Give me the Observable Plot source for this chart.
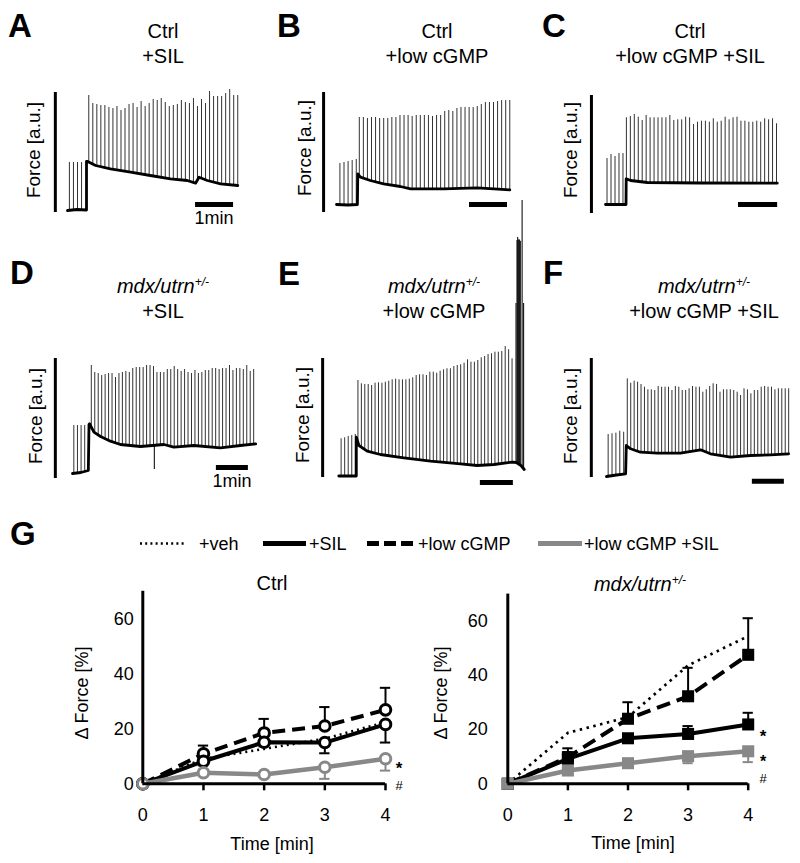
<!DOCTYPE html>
<html><head><meta charset="utf-8">
<script src="https://cdn.jsdelivr.net/npm/d3@7"></script>
<script src="https://cdn.jsdelivr.net/npm/@observablehq/plot@0.6"></script>
<style>
body{margin:0;background:#fff;}
#fig{position:relative;width:800px;height:863px;overflow:hidden;font-family:"Liberation Sans",Arial,sans-serif;color:#000;background:#fff;}
.lbl{position:absolute;white-space:nowrap;}
.lbl sup{font-size:0.6em;position:relative;top:-0.6em;vertical-align:baseline;line-height:0;}
.pos{position:absolute;}
</style></head><body><div id="fig"></div>
<script>
// ================= DATA =================
// Force traces: time in min (from start of the pre-segment), force in a.u.
// ---- A: Ctrl +SIL
const A_preSpan = [0.05, 0.37];
const A_preSpikes = [50, 50, 50, 50];
const A_postSpan = [0.56, 4.48];
const A_postSpikes = [117, 109, 108, 107, 107, 105, 104, 106, 102, 104, 108, 109, 105, 111, 106, 109, 113, 112, 114, 110, 106, 107, 108, 112, 110, 109, 114, 106, 113, 109, 121, 116, 116, 116, 119, 123, 117, 117];
const A_baseT = [0, 0.25, 0.5, 0.5, 0.53, 0.74, 1.13, 1.66, 2.18, 2.71, 3.15, 3.37, 3.46, 3.68, 4.03, 4.48];
const A_baseF = [2, 3, 2.5, 51, 51, 47, 43.7, 40.3, 37, 33.7, 32, 29.3, 35.3, 32, 28.7, 27];
const A_scaleBar = {t: -0.32, len: 120};
const A_timeBar = {t1: 3.37, t2: 4.37, f: 8};
// ---- B: Ctrl +low cGMP
const B_preSpan = [0.09, 0.52];
const B_preSpikes = [49, 50, 51, 52, 53];
const B_postSpan = [0.6, 4.56];
const B_postSpikes = [95, 95, 94, 95, 95, 94, 94, 94, 95, 95, 97, 97, 97, 96, 97, 97, 97, 97, 96, 97, 97, 101, 102, 101, 104, 105, 105, 105, 105, 106, 108, 110, 110, 110, 111, 112, 112, 112];
const B_baseT = [0, 0.3, 0.55, 0.56, 0.63, 0.89, 1.24, 1.68, 1.95, 2.82, 3.70, 4.14, 4.56];
const B_baseF = [8, 7.5, 8, 38.7, 35.3, 32, 28.7, 26, 23.7, 23.7, 24.7, 23.7, 22.7];
const B_scaleBar = {t: -0.34, len: 120};
const B_timeBar = {t1: 3.5, t2: 4.5, f: 8};
// ---- C: Ctrl +low cGMP +SIL
const C_preSpan = [0.04, 0.46];
const C_preSpikes = [55, 59, 57, 60, 60];
const C_postSpan = [0.55, 4.5];
const C_postSpikes = [95.7, 97, 99, 96.3, 93, 98, 95.7, 95.7, 95.7, 95.7, 95.7, 98, 93, 93.7, 93.7, 96.3, 95.7, 89, 91.3, 92.3, 92.3, 91.3, 94.7, 91.3, 92.3, 96.3, 93.7, 95.7, 96.3, 92.3, 92.3, 91.3, 91.3, 92.3, 91.3, 94.7, 93.7, 94.7, 89.7];
const C_baseT = [0, 0.54, 0.545, 0.66, 1.1, 2.5, 4.52];
const C_baseF = [9, 9, 34.7, 33, 31, 30.5, 30.3];
const C_scaleBar = {t: -0.37, len: 118};
const C_timeBar = {t1: 3.5, t2: 4.53, f: 9};
// ---- D: mdx/utrn+/- +SIL
const D_preSpan = [0.04, 0.37];
const D_preSpikes = [53, 53, 53, 53];
const D_postSpan = [0.57, 5.49];
const D_postSpikes = [113, 106, 105, 103, 104, 105, 105, 101, 105, 106, 107, 106, 110, 111, 111, 111, 113, 113, 112, 106, 106, 106, 109, 109, 112, 109, 107, 109, 106, 105, 108, 105, 106, 108, 108, 110, 110, 109, 110, 110, 113, 108, 110, 110, 109, 113, 107, 109];
const D_baseT = [0, 0.25, 0.48, 0.5, 0.52, 0.65, 0.85, 1.15, 1.45, 2.06, 2.77, 3.07, 3.68, 4.48, 5.09, 5.55];
const D_baseF = [5, 6, 8, 54, 54.7, 46.3, 42, 37.3, 34, 32, 34, 31.3, 33, 30.7, 33, 34.7];
const D_extraT = [2.48];
const D_extraF = [9];
const D_scaleBar = {t: -0.52, len: 120};
const D_timeBar = {t1: 4.36, t2: 5.33, f: 11};
// ---- E: mdx/utrn+/- +low cGMP
const E_preSpan = [0.07, 0.5];
const E_preSpikes = [38.7, 39.7, 41, 42, 43];
const E_postSpan = [0.58, 5.25];
const E_postSpikes = [97, 93.7, 93, 93, 92, 94.3, 94.7, 94.3, 95.3, 96.3, 97.7, 98.3, 97.7, 97.7, 97.7, 98.3, 99.7, 102, 102.7, 102.7, 102, 105.3, 105.3, 104.3, 106.3, 107.7, 108.7, 108.7, 111, 112, 112.7, 114.3, 117.7, 115.3, 115.3, 117, 119.7, 121, 123, 123.7, 125.3, 125.3, 126, 131, 127.7, 118.7];
const E_baseT = [0, 0.53, 0.53, 0.61, 0.86, 1.26, 1.97, 2.78, 3.69, 4.19, 4.7, 5.25, 5.38, 5.52, 5.62];
const E_baseF = [1.5, 1.5, 40.3, 32, 26.3, 23, 19.7, 16.3, 13.7, 12, 13, 15.3, 15, 12, 8];
const E_extraT = [5.37, 5.40, 5.42, 5.44, 5.46, 5.48, 5.50, 5.555, 5.60];
const E_extraF = [174, 237, 240, 237, 238, 237, 236, 277, 174];
const E_scaleBar = {t: -0.49, len: 119};
const E_timeBar = {t1: 4.29, t2: 5.29, f: -5};
// ---- F: mdx/utrn+/- +low cGMP +SIL
const F_preSpan = [0.05, 0.52];
const F_preSpikes = [43, 43.7, 44.3, 46.3, 45.3];
const F_postSpan = [0.63, 5.52];
const F_postSpikes = [98.7, 94.3, 96.3, 95.3, 93, 90.3, 87.7, 87.7, 87, 91, 90.3, 90.3, 90.3, 87, 91, 90.3, 87, 87, 88.7, 91, 90.3, 90.3, 85.3, 87.7, 91, 93.7, 93, 85.3, 87.7, 87.7, 87.7, 87, 85.3, 82, 88.7, 87.7, 83.7, 87, 87, 90.3, 91, 90.3, 90.3, 87.7, 88.7, 88.7, 88.7, 88.7];
const F_baseT = [0, 0.3, 0.58, 0.6, 0.73, 1.03, 1.54, 2.24, 2.85, 3.15, 3.76, 4.36, 4.97, 5.52];
const F_baseF = [1, 2.5, 3.7, 32, 28.7, 25.3, 24.3, 24.3, 27.7, 23.7, 20.3, 22, 22.7, 23.7];
const F_scaleBar = {t: -0.46, len: 119};
const F_timeBar = {t1: 4.42, t2: 5.39, f: -3.7};

// ---- G: Δ force over time (%)
const times = [0, 1, 2, 3, 4];
const ctrl_veh = [0, 9.1, 12.7, 16.4, 22.4];
const ctrl_sil = [0, 8.2, 15.1, 15.0, 21.6];
const ctrl_sil_err = [0, 1.5, 1.5, 3.9, 6.6];
const ctrl_cgmp = [0, 10.9, 18.5, 21.0, 26.9];
const ctrl_cgmp_err = [0, 3.0, 5.1, 6.9, 8.0];
const ctrl_cgmpsil = [0, 4.0, 3.4, 6.0, 9.1];
const ctrl_cgmpsil_err = [0, 1.0, 1.0, 4.2, 4.3];
const mdx_veh = [0, 18.8, 24.6, 43.7, 54.5];
const mdx_sil = [0, 9.2, 16.8, 18.4, 21.9];
const mdx_sil_err = [0, 2.5, 1.5, 2.9, 4.3];
const mdx_cgmp = [0, 9.8, 24.0, 32.3, 47.6];
const mdx_cgmp_err = [0, 3.3, 6.1, 10.5, 13.5];
const mdx_cgmpsil = [0, 4.9, 7.6, 10.2, 12.0];
const mdx_cgmpsil_err = [0, 1.0, 1.0, 2.6, 4.0];
const yTicks = [0, 20, 40, 60];
const legendLabels = ["+veh", "+SIL", "+low cGMP", "+low cGMP +SIL"];

// ================= LAYOUT / HELPERS =================
const fig = document.getElementById('fig');
const FONT = '"Liberation Sans", Arial, sans-serif';

function label(html, x, baseline, o = {}) {
  const s = o.size || 20;
  const d = document.createElement('div');
  d.className = 'lbl';
  d.innerHTML = html;
  d.style.fontSize = s + 'px';
  d.style.lineHeight = s + 'px';
  d.style.left = x + 'px';
  d.style.top = (baseline - 0.8465 * s) + 'px';
  if (o.weight) d.style.fontWeight = o.weight;
  if (o.italic) d.style.fontStyle = 'italic';
  const ax = o.anchor === 'start' ? '0' : o.anchor === 'end' ? '-100%' : '-50%';
  d.style.transform = `translateX(${ax})`;
  fig.appendChild(d);
}
function vlabel(html, cx, cy, s) {
  const d = document.createElement('div');
  d.className = 'lbl';
  d.innerHTML = html;
  d.style.fontSize = s + 'px';
  d.style.lineHeight = s + 'px';
  d.style.left = cx + 'px';
  d.style.top = cy + 'px';
  d.style.transform = 'translate(-50%,-50%) rotate(-90deg)';
  fig.appendChild(d);
}
function place(node, x, y) {
  const w = document.createElement('div');
  w.className = 'pos';
  w.style.left = x + 'px';
  w.style.top = y + 'px';
  w.appendChild(node);
  fig.appendChild(w);
}
function interp(ts, fs, t) {
  for (let i = 0; i < ts.length - 1; i++) {
    if (ts[i + 1] > ts[i] && t >= ts[i] && t <= ts[i + 1]) {
      const u = (t - ts[i]) / (ts[i + 1] - ts[i]);
      return fs[i] + u * (fs[i + 1] - fs[i]);
    }
  }
  return t < ts[0] ? fs[0] : fs[fs.length - 1];
}
function spikesFrom(span, heights, baseT, baseF) {
  const n = heights.length;
  const step = n > 1 ? (span[1] - span[0]) / (n - 1) : 0;
  return heights.map((f, i) => {
    const t = span[0] + i * step;
    return {t, f, base: interp(baseT, baseF, t)};
  });
}

function tracePlot(lay, p) {
  const xd = [(lay.L - lay.x0) / lay.ppm, (lay.L + lay.W - lay.x0) / lay.ppm];
  const yd = [lay.ybot - (lay.T + lay.H), lay.ybot - lay.T];
  const base = p.baseT.map((t, i) => ({t, f: p.baseF[i]}));
  const spikes = [
    ...spikesFrom(p.preSpan, p.pre, p.baseT, p.baseF),
    ...spikesFrom(p.postSpan, p.post, p.baseT, p.baseF)
  ];
  const extra = (p.extraT || []).map((t, i) => ({t, f: p.extraF[i], base: interp(p.baseT, p.baseF, t)}));
  const plot = Plot.plot({
    width: lay.W, height: lay.H,
    marginLeft: 0, marginRight: 0, marginTop: 0, marginBottom: 0,
    style: {background: "transparent", overflow: "visible"},
    x: {domain: xd, axis: null},
    y: {domain: yd, axis: null},
    marks: [
      Plot.ruleX(spikes, {x: "t", y1: "base", y2: "f", stroke: "#333", strokeWidth: 1}),
      Plot.ruleX(extra, {x: "t", y1: "base", y2: "f", stroke: "#111", strokeWidth: 1.1}),
      Plot.line(base, {x: "t", y: "f", stroke: "#000", strokeWidth: 2.8, strokeLinejoin: "round"}),
      Plot.ruleX([p.scaleBar], {x: "t", y1: 0, y2: "len", stroke: "#000", strokeWidth: 3}),
      Plot.ruleY([p.timeBar], {y: "f", x1: "t1", x2: "t2", stroke: "#000", strokeWidth: 5})
    ]
  });
  place(plot, lay.L, lay.T);
}

const panels = [
  {lay: {L: 40, T: 75, W: 215, H: 150, x0: 67, ppm: 38, ybot: 212},
   p: {preSpan: A_preSpan, pre: A_preSpikes, postSpan: A_postSpan, post: A_postSpikes, baseT: A_baseT, baseF: A_baseF, scaleBar: A_scaleBar, timeBar: A_timeBar}},
  {lay: {L: 310, T: 75, W: 215, H: 150, x0: 336, ppm: 38, ybot: 212},
   p: {preSpan: B_preSpan, pre: B_preSpikes, postSpan: B_postSpan, post: B_postSpikes, baseT: B_baseT, baseF: B_baseF, scaleBar: B_scaleBar, timeBar: B_timeBar}},
  {lay: {L: 578, T: 75, W: 215, H: 150, x0: 605, ppm: 38, ybot: 213},
   p: {preSpan: C_preSpan, pre: C_preSpikes, postSpan: C_postSpan, post: C_postSpikes, baseT: C_baseT, baseF: C_baseF, scaleBar: C_scaleBar, timeBar: C_timeBar}},
  {lay: {L: 40, T: 340, W: 220, H: 150, x0: 72, ppm: 33, ybot: 478},
   p: {preSpan: D_preSpan, pre: D_preSpikes, postSpan: D_postSpan, post: D_postSpikes, baseT: D_baseT, baseF: D_baseF, extraT: D_extraT, extraF: D_extraF, scaleBar: D_scaleBar, timeBar: D_timeBar}},
  {lay: {L: 310, T: 185, W: 220, H: 305, x0: 338.3, ppm: 33, ybot: 477},
   p: {preSpan: E_preSpan, pre: E_preSpikes, postSpan: E_postSpan, post: E_postSpikes, baseT: E_baseT, baseF: E_baseF, extraT: E_extraT, extraF: E_extraF, scaleBar: E_scaleBar, timeBar: E_timeBar}},
  {lay: {L: 578, T: 340, W: 215, H: 150, x0: 606, ppm: 33, ybot: 477},
   p: {preSpan: F_preSpan, pre: F_preSpikes, postSpan: F_postSpan, post: F_postSpikes, baseT: F_baseT, baseF: F_baseF, scaleBar: F_scaleBar, timeBar: F_timeBar}}
];
panels.forEach(d => tracePlot(d.lay, d.p));

// ---- panel letters & titles
const letters = [["A", 8, 37], ["B", 277, 37], ["C", 542, 37], ["D", 10, 284], ["E", 278, 285], ["F", 543, 284], ["G", 10, 545]];
letters.forEach(([l, x, y]) => label(l, x, y, {size: 33, weight: "bold", anchor: "start"}));
const MDX = '<i>mdx/utrn<sup>+/-</sup></i>';
const titles = [
  ["Ctrl", "+SIL", 163, 38], ["Ctrl", "+low cGMP", 437, 38], ["Ctrl", "+low cGMP +SIL", 690, 38],
  [MDX, "+SIL", 163, 293], [MDX, "+low cGMP", 434, 293], [MDX, "+low cGMP +SIL", 704, 293]
];
titles.forEach(([a, b, x, y]) => { label(a, x, y, {size: 20}); label(b, x, y + 25, {size: 20}); });
[[33, 150], [304, 148], [570, 150], [35, 416], [302, 415], [570, 416]].forEach(([x, y]) => vlabel("Force [a.u.]", x, y, 19));
label("1min", 214, 224, {size: 18});
label("1min", 232, 487, {size: 18});

// ---- G legend
(function () {
  const ns = "http://www.w3.org/2000/svg";
  const svg = document.createElementNS(ns, "svg");
  svg.setAttribute("width", 800); svg.setAttribute("height", 30);
  svg.style.fontFamily = FONT;
  const items = [
    {x1: 140, x2: 184, tx: 199, stroke: "#000", w: 2.6, dash: "2,3.2"},
    {x1: 263, x2: 306, tx: 309, stroke: "#000", w: 5, dash: null},
    {x1: 367, x2: 413, tx: 418, stroke: "#000", w: 5, dash: "12,5"},
    {x1: 538, x2: 582, tx: 584, stroke: "#888", w: 5, dash: null}
  ];
  items.forEach((it, i) => {
    const ln = document.createElementNS(ns, "line");
    ln.setAttribute("x1", it.x1); ln.setAttribute("x2", it.x2);
    ln.setAttribute("y1", 13.5); ln.setAttribute("y2", 13.5);
    ln.setAttribute("stroke", it.stroke); ln.setAttribute("stroke-width", it.w);
    if (it.dash) ln.setAttribute("stroke-dasharray", it.dash);
    svg.appendChild(ln);
    const tx = document.createElementNS(ns, "text");
    tx.setAttribute("x", it.tx); tx.setAttribute("y", 20);
    tx.setAttribute("font-size", 18);
    tx.textContent = legendLabels[i];
    svg.appendChild(tx);
  });
  place(svg, 0, 530);
})();

// ---- G charts
function growthPlot(cfg) {
  const marks = [];
  cfg.series.forEach(s => {
    const data = times.map((t, i) => ({t, v: s.vals[i], e: s.err ? s.err[i] : 0}));
    marks.push(Plot.line(data, {x: "t", y: "v", stroke: s.color, strokeWidth: s.width, strokeDasharray: s.dash, strokeLinecap: "butt"}));
    if (s.err) {
      const eb = data.filter(d => d.e > 0).map(d => ({t: d.t, v: d.v, end: d.v + s.dir * d.e}));
      marks.push(Plot.ruleX(eb, {x: "t", y1: "v", y2: "end", stroke: s.color, strokeWidth: 2}));
      marks.push(Plot.ruleY(eb, {y: "end", x1: d => d.t - 0.085, x2: d => d.t + 0.085, stroke: s.color, strokeWidth: 2}));
    }
    if (s.marker) {
      if (cfg.markerType === "circle") {
        marks.push(Plot.dot(data, {x: "t", y: "v", r: 5.3, fill: "#fff", stroke: s.color, strokeWidth: 3}));
      } else {
        marks.push(Plot.dot(data, {x: "t", y: "v", r: 6.8, symbol: "square", fill: s.color, stroke: "none"}));
      }
    }
  });
  const plot = Plot.plot({
    width: 400, height: 293,
    marginLeft: cfg.ml, marginRight: cfg.mr, marginTop: cfg.mt, marginBottom: 79.7,
    style: {background: "transparent", overflow: "visible", fontFamily: FONT, fontSize: "18px", color: "#000"},
    x: {domain: [0, 4]},
    y: {domain: [0, 70]},
    marks: [
      Plot.axisX({ticks: [1, 2, 3, 4], tickSize: 7, strokeWidth: 2.5, tickFormat: () => "", label: null}),
      Plot.axisX({ticks: times, tickSize: 0, tickPadding: 24, tickFormat: d => String(d), label: null}),
      Plot.axisY({ticks: yTicks, tickSize: 0, tickPadding: cfg.ypad, tickFormat: d => String(d), label: null}),
      ...marks,
      Plot.ruleY([0], {x1: 0, x2: 4, stroke: "#000", strokeWidth: 3}),
      Plot.ruleX([0], {y1: 0, y2: 70, stroke: "#000", strokeWidth: 3})
    ]
  });
  place(plot, cfg.left, 570);
}
growthPlot({
  left: 0, ml: 142.3, mr: 15, mt: 20.8, ypad: 9, markerType: "circle",
  series: [
    {vals: ctrl_veh, color: "#000", width: 2.6, dash: "2,4", marker: false},
    {vals: ctrl_cgmp, err: ctrl_cgmp_err, dir: 1, color: "#000", width: 4, dash: "13,7", marker: true},
    {vals: ctrl_sil, err: ctrl_sil_err, dir: -1, color: "#000", width: 4, dash: null, marker: true},
    {vals: ctrl_cgmpsil, err: ctrl_cgmpsil_err, dir: -1, color: "#888", width: 4.5, dash: null, marker: true}
  ]
});
growthPlot({
  left: 400, ml: 107.3, mr: 52.3, mt: 23.6, ypad: 20, markerType: "square",
  series: [
    {vals: mdx_veh, color: "#000", width: 2.7, dash: "2.5,4.5", marker: false},
    {vals: mdx_cgmp, err: mdx_cgmp_err, dir: 1, color: "#000", width: 4, dash: "14,7", marker: true},
    {vals: mdx_sil, err: mdx_sil_err, dir: 1, color: "#000", width: 4, dash: null, marker: true},
    {vals: mdx_cgmpsil, err: mdx_cgmpsil_err, dir: -1, color: "#888", width: 4.5, dash: null, marker: true}
  ]
});
label("Ctrl", 272, 590, {size: 20});
label(MDX, 640, 591, {size: 20});
vlabel("&Delta; Force [%]", 82, 693, 18);
vlabel("&Delta; Force [%]", 441, 693, 18);
label("Time [min]", 272, 850, {size: 18});
label("Time [min]", 633, 849, {size: 18});
label("*", 399, 774, {size: 17, weight: "bold"});
label("#", 399, 790, {size: 13});
label("*", 763, 742, {size: 17, weight: "bold"});
label("*", 763, 768, {size: 16, weight: "bold"});
label("#", 763, 783, {size: 13});
</script></body></html>
